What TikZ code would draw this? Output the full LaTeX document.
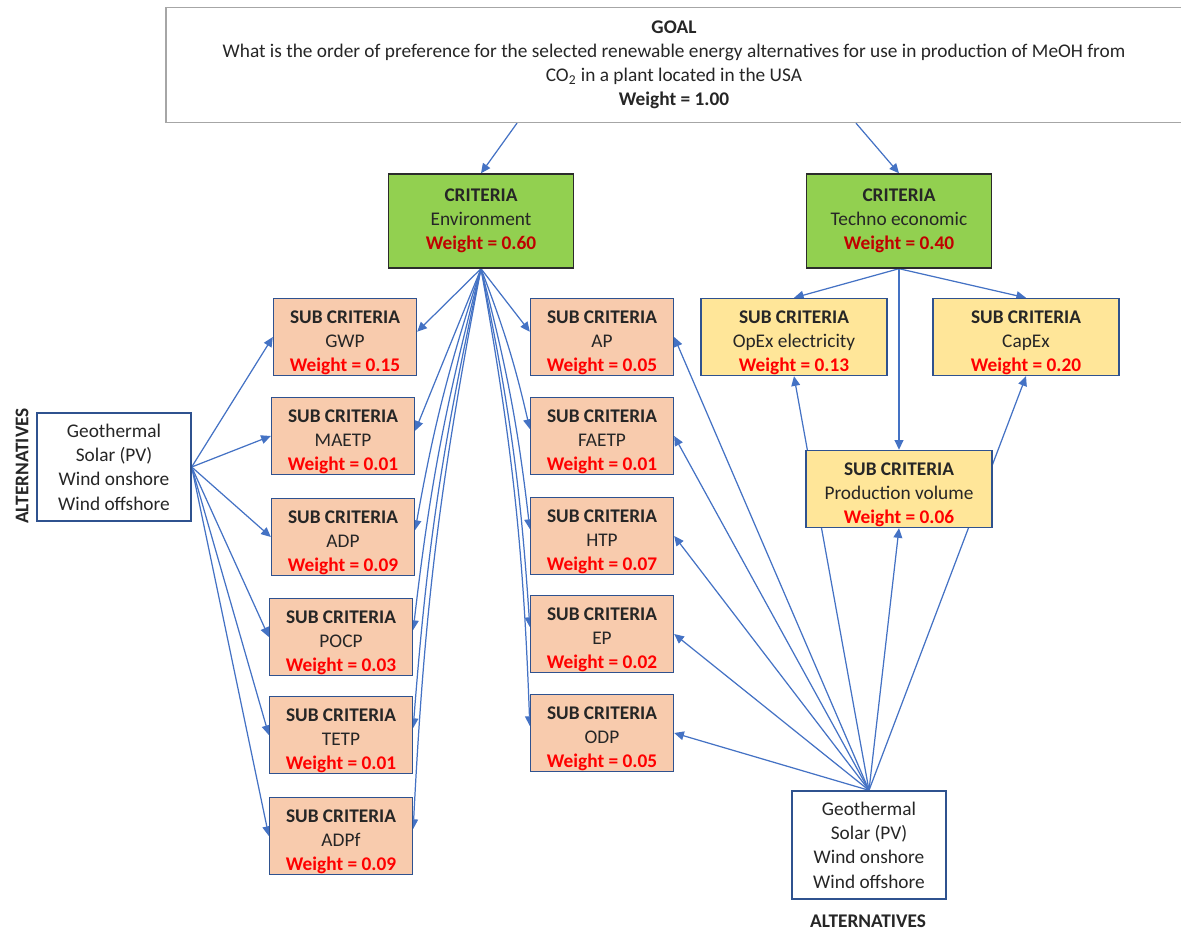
\documentclass[tikz,border=0pt]{standalone}
\usepackage{fontspec}
\setmainfont{Carlito}
\usepackage{xcolor}
\usetikzlibrary{arrows.meta}
\definecolor{LinkBlue}{HTML}{4472C4}
\definecolor{SubFill}{HTML}{F8CBAD}
\definecolor{SubLine}{HTML}{2F528F}
\definecolor{TechFill}{HTML}{FFE699}
\definecolor{CritFill}{HTML}{92D050}
\definecolor{CritLine}{HTML}{2B2B2B}
\definecolor{WeightDark}{HTML}{C00000}
\definecolor{WeightRed}{HTML}{FF0000}
\definecolor{GoalLine}{HTML}{A6A6A6}
\definecolor{TextDark}{HTML}{262626}

% first line of a sub criteria box, set a little lower
\newcommand{\subhead}{\rule{0pt}{13.5pt}\textbf{SUB CRITERIA}}

\pgfdeclarelayer{background}
\pgfsetlayers{background,main}

\tikzset{
  box/.style={rectangle, align=center, inner sep=0pt, text=TextDark,
    font=\fontsize{11}{13.6}\selectfont},
  goalbox/.style={box, draw=GoalLine, line width=0.7pt, fill=white,
    minimum width=20.32cm, minimum height=2.3cm},
  critbox/.style={box, draw=CritLine, line width=0.8pt, fill=CritFill,
    minimum width=3.7cm, minimum height=1.88cm},
  subbox/.style={box, draw=SubLine, line width=0.8pt, fill=SubFill,
    minimum width=2.86cm, minimum height=1.54cm},
  techbox/.style={subbox, fill=TechFill, minimum width=3.72cm},
  altbox/.style={box, draw=SubLine, line width=0.8pt, fill=white,
    minimum width=3.08cm, minimum height=2.16cm,
    font=\fontsize{11}{13.8}\selectfont},
  altlabel/.style={font=\fontsize{11}{13}\selectfont\bfseries, text=TextDark},
  link/.style={draw=LinkBlue, line width=0.7pt,
    -{Triangle[length=5.5pt,width=5pt]}}
}

\begin{document}
\begin{tikzpicture}[x=0.02cm, y=-0.02cm]
		\useasboundingbox (0,0) rectangle (1181,932);

		% goal and criteria
		\node[goalbox] (goal) at (674,65) {\textbf{GOAL}\\What is the order of preference for the selected renewable energy alternatives for use in production of MeOH from\\CO\textsubscript{2} in a plant located in the USA\\\textbf{Weight = 1.00}};
		\node[critbox] (env) at (481,221) {\textbf{CRITERIA}\\Environment\\\textcolor{WeightDark}{\textbf{Weight = 0.60}}};
		\node[critbox] (tech) at (899,221) {\textbf{CRITERIA}\\Techno economic\\\textcolor{WeightDark}{\textbf{Weight = 0.40}}};

		% environment sub criteria
		\node[subbox] (gwp) at (345,337) {\subhead\\GWP\\\textcolor{WeightRed}{\textbf{Weight = 0.15}}};
		\node[subbox] (maetp) at (343,436) {\subhead\\MAETP\\\textcolor{WeightRed}{\textbf{Weight = 0.01}}};
		\node[subbox] (adp) at (343,537) {\subhead\\ADP\\\textcolor{WeightRed}{\textbf{Weight = 0.09}}};
		\node[subbox] (pocp) at (341,637) {\subhead\\POCP\\\textcolor{WeightRed}{\textbf{Weight = 0.03}}};
		\node[subbox] (tetp) at (341,735) {\subhead\\TETP\\\textcolor{WeightRed}{\textbf{Weight = 0.01}}};
		\node[subbox] (adpf) at (341,836) {\subhead\\ADPf\\\textcolor{WeightRed}{\textbf{Weight = 0.09}}};

		\node[subbox] (ap) at (602,337) {\subhead\\AP\\\textcolor{WeightRed}{\textbf{Weight = 0.05}}};
		\node[subbox] (faetp) at (602,436) {\subhead\\FAETP\\\textcolor{WeightRed}{\textbf{Weight = 0.01}}};
		\node[subbox] (htp) at (602,536) {\subhead\\HTP\\\textcolor{WeightRed}{\textbf{Weight = 0.07}}};
		\node[subbox] (ep) at (602,634) {\subhead\\EP\\\textcolor{WeightRed}{\textbf{Weight = 0.02}}};
		\node[subbox] (odp) at (602,733) {\subhead\\ODP\\\textcolor{WeightRed}{\textbf{Weight = 0.05}}};

		% techno economic sub criteria
		\node[techbox] (opex) at (794,337) {\subhead\\OpEx electricity\\\textcolor{WeightRed}{\textbf{Weight = 0.13}}};
		\node[techbox] (capex) at (1026,337) {\subhead\\CapEx\\\textcolor{WeightRed}{\textbf{Weight = 0.20}}};
		\node[techbox] (prod) at (899,489) {\subhead\\Production volume\\\textcolor{WeightRed}{\textbf{Weight = 0.06}}};

		% alternatives
		\node[altbox] (altl) at (114,467) {Geothermal\\Solar (PV)\\Wind onshore\\Wind offshore};
		\node[altlabel, rotate=90] (altltxt) at (22,466) {ALTERNATIVES};
		\node[altbox] (altb) at (869,845) {Geothermal\\Solar (PV)\\Wind onshore\\Wind offshore};
		\node[altlabel] (altbtxt) at (868,921) {ALTERNATIVES};

		\begin{pgfonlayer}{background}
		\draw[link] ([xshift=-3.14cm]goal.south) -- (env.north);
		\draw[link] ([xshift=3.64cm]goal.south) -- (tech.north);

		\foreach \s in {gwp,maetp}
			\draw[link] (env.south) -- ([yshift=3pt]\s.east);
		\foreach \s in {adp,pocp,tetp,adpf}
			\draw[link] (env.south) to[bend right=4] ([yshift=4pt]\s.east);
		\draw[link] (env.south) -- ([yshift=3pt]ap.west);
		\foreach \s in {faetp,htp,ep,odp}
			\draw[link] (env.south) to[bend left=4] ([yshift=4pt]\s.west);

		\foreach \s in {opex,capex,prod}
			\draw[link] (tech.south) -- (\s.north);

		\foreach \s in {gwp,maetp,adp,pocp,tetp,adpf}
			\draw[link] (altl.east) -- (\s.west);
		\foreach \s in {ap,faetp,htp,ep,odp}
			\draw[link] (altb.north) -- (\s.east);
		\foreach \s in {opex,capex,prod}
			\draw[link] (altb.north) -- (\s.south);
		\end{pgfonlayer}
	\end{tikzpicture}
\end{document}
